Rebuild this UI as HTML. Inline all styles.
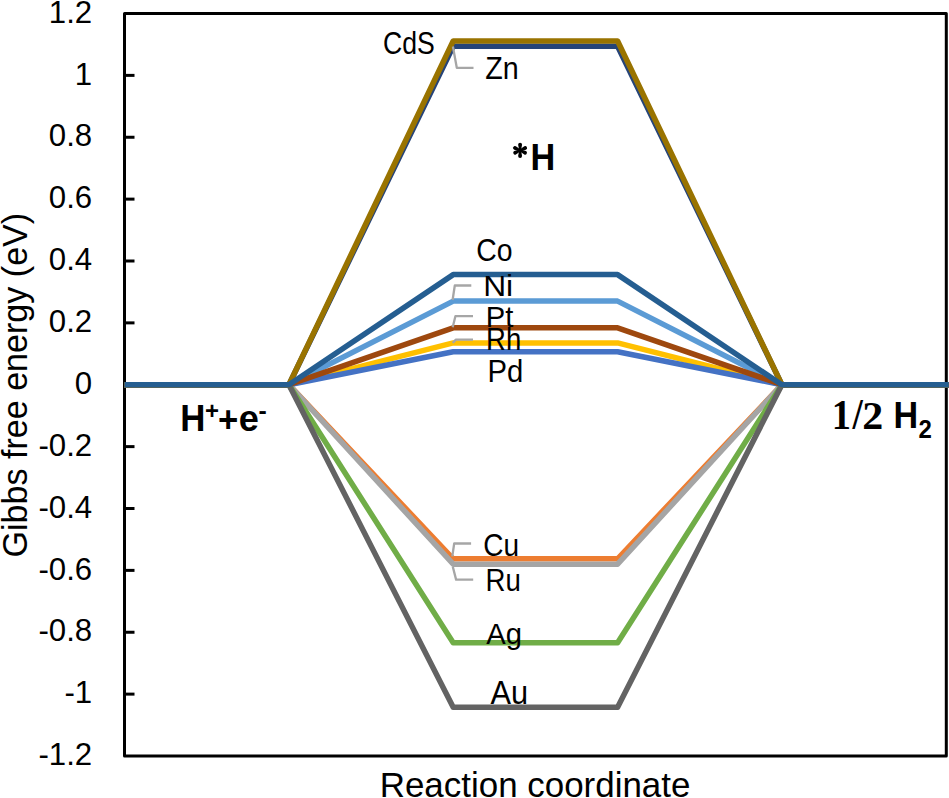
<!DOCTYPE html>
<html><head><meta charset="utf-8"><title>Gibbs free energy diagram</title>
<style>html,body{margin:0;padding:0;background:#fff;overflow:hidden}svg{display:block}text{font-family:"Liberation Sans",sans-serif;fill:#000}.s{font-family:"Liberation Serif",serif}</style>
</head><body>
<svg width="949" height="798" viewBox="0 0 949 798">
<rect width="949" height="798" fill="#fff"/>
<g stroke="#000" stroke-width="3"><line x1="124.5" y1="75.38" x2="134.5" y2="75.38"/><line x1="124.5" y1="137.25" x2="134.5" y2="137.25"/><line x1="124.5" y1="199.12" x2="134.5" y2="199.12"/><line x1="124.5" y1="261.00" x2="134.5" y2="261.00"/><line x1="124.5" y1="322.88" x2="134.5" y2="322.88"/><line x1="124.5" y1="384.75" x2="134.5" y2="384.75"/><line x1="124.5" y1="446.62" x2="134.5" y2="446.62"/><line x1="124.5" y1="508.50" x2="134.5" y2="508.50"/><line x1="124.5" y1="570.38" x2="134.5" y2="570.38"/><line x1="124.5" y1="632.25" x2="134.5" y2="632.25"/><line x1="124.5" y1="694.12" x2="134.5" y2="694.12"/></g>
<g font-size="31.5" text-anchor="end"><text transform="translate(92.2 22.70) scale(0.99 1)">1.2</text><text transform="translate(92.2 84.58) scale(0.99 1)">1</text><text transform="translate(92.2 146.45) scale(0.99 1)">0.8</text><text transform="translate(92.2 208.32) scale(0.99 1)">0.6</text><text transform="translate(92.2 270.20) scale(0.99 1)">0.4</text><text transform="translate(92.2 332.07) scale(0.99 1)">0.2</text><text transform="translate(92.2 393.95) scale(0.99 1)">0</text><text transform="translate(92.2 455.82) scale(0.99 1)">-0.2</text><text transform="translate(92.2 517.70) scale(0.99 1)">-0.4</text><text transform="translate(92.2 579.58) scale(0.99 1)">-0.6</text><text transform="translate(92.2 641.45) scale(0.99 1)">-0.8</text><text transform="translate(92.2 703.33) scale(0.99 1)">-1</text><text transform="translate(92.2 765.20) scale(0.99 1)">-1.2</text></g>
<rect x="124.5" y="13.5" width="821.8" height="742.5" fill="none" stroke="#000" stroke-width="3" stroke-linejoin="round"/>
<g fill="none" stroke-width="5.50" stroke-linejoin="round" stroke-linecap="butt"><path stroke="#ED7D31" d="M124.5 384.7 L288.9 384.7 L453.2 558.8 L617.6 558.8 L781.9 384.7 L948.8 384.7"/><path stroke="#A5A5A5" d="M124.5 384.7 L288.9 384.7 L453.2 564.2 L617.6 564.2 L781.9 384.7 L948.8 384.7"/><path stroke="#FFC000" d="M124.5 384.7 L288.9 384.7 L453.2 342.9 L617.6 342.9 L781.9 384.7 L948.8 384.7"/><path stroke="#4472C4" d="M124.5 384.7 L288.9 384.7 L453.2 351.7 L617.6 351.7 L781.9 384.7 L948.8 384.7"/><path stroke="#5B9BD5" d="M124.5 384.7 L288.9 384.7 L453.2 301.1 L617.6 301.1 L781.9 384.7 L948.8 384.7"/><path stroke="#70AD47" d="M124.5 384.7 L288.9 384.7 L453.2 642.8 L617.6 642.8 L781.9 384.7 L948.8 384.7"/><path stroke="#264478" d="M124.5 384.7 L288.9 384.7 L453.2 46.3 L617.6 46.3 L781.9 384.7 L948.8 384.7"/><path stroke="#9E480E" d="M124.5 384.7 L288.9 384.7 L453.2 327.8 L617.6 327.8 L781.9 384.7 L948.8 384.7"/><path stroke="#636363" d="M124.5 384.7 L288.9 384.7 L453.2 707.2 L617.6 707.2 L781.9 384.7 L948.8 384.7"/><path stroke="#997300" d="M124.5 384.7 L288.9 384.7 L453.2 41.0 L617.6 41.0 L781.9 384.7 L948.8 384.7"/><path stroke="#255E91" d="M124.5 384.7 L288.9 384.7 L453.2 274.6 L617.6 274.6 L781.9 384.7 L948.8 384.7"/></g>
<g fill="none" stroke="#A6A6A6" stroke-width="2.3" stroke-linejoin="round"><path d="M452.9 46.5 L456.8 67.8 L473.5 67.8"/><path d="M452.6 300.0 L454.8 285.5 L471.3 285.5"/><path d="M452.7 327.2 L455.4 316.2 L473.0 316.2"/><path d="M452.7 342.8 L455.9 339.7 L473.0 339.7"/><path d="M452.3 556.3 L454.2 543.5 L471.1 543.5"/><path d="M452.8 566.7 L456.1 579.6 L473.2 579.6"/></g>
<text transform="translate(383.07 54.30) scale(0.8603 1)" font-size="30.98">CdS</text>
<text transform="translate(485.34 79.00) scale(0.8951 1)" font-size="32.05">Zn</text>
<text transform="translate(476.18 261.30) scale(0.8900 1)" font-size="31.90">Co</text>
<text transform="translate(483.15 296.00) scale(1.0784 1)" font-size="29.44">Ni</text>
<text transform="translate(485.87 326.70) scale(0.9821 1)" font-size="29.71">Pt</text>
<text transform="translate(486.01 350.30) scale(0.8927 1)" font-size="30.84">Rh</text>
<text transform="translate(487.46 381.70) scale(0.9317 1)" font-size="31.40">Pd</text>
<text transform="translate(483.20 555.80) scale(0.8786 1)" font-size="31.90">Cu</text>
<text transform="translate(485.60 591.40) scale(0.9030 1)" font-size="30.59">Ru</text>
<text transform="translate(486.30 643.83) scale(0.9630 1)" font-size="30.34">Ag</text>
<text transform="translate(490.40 703.70) scale(0.9518 1)" font-size="32.34">Au</text>
<g font-weight="bold">
<text transform="translate(530.61 170.00) scale(0.9260 1)" font-size="37.02">H</text>
<text transform="translate(180.28 431.20) scale(0.9289 1)" font-size="37.46">H</text>
<text transform="translate(205.00 419.07) scale(0.9677 1)" font-size="24.80">+</text>
<text transform="translate(218.06 432.12) scale(0.9305 1)" font-size="37.40">+</text>
<text transform="translate(238.69 431.20) scale(0.9846 1)" font-size="36.77">e</text>
<text transform="translate(258.48 418.60) scale(1.0312 1)" font-size="24.00">-</text>
<text class="s" transform="translate(831.70 428.90) scale(0.922 1)" font-size="41.69">1</text>
<text class="s" transform="translate(852.40 429.20) scale(0.845 1)" font-size="43.85">/</text>
<text class="s" transform="translate(862.30 428.60) scale(1.026 1)" font-size="40.92">2</text>
<text transform="translate(893.53 428.00) scale(0.9251 1)" font-size="36.88">H</text>
<text transform="translate(918.60 437.80) scale(0.9647 1)" font-size="24.88">2</text>
</g>
<text transform="translate(379.69 797.40) scale(0.9900 1)" font-size="35.30">Reaction coordinate</text>
<g transform="translate(0 555.8) rotate(-90)"><text transform="translate(-1.71 27.0) scale(0.974 1)" font-size="35">Gibbs free energy (eV)</text></g>
<g fill="#000"><path d="M521.05 150.30L522.05 144.70A1.95 1.95 0 0 0 518.15 144.70L519.15 150.30Z"/><path d="M519.15 150.30L518.15 155.95A1.95 1.95 0 0 0 522.05 155.95L521.05 150.30Z"/><path d="M520.50 149.44L515.89 146.20A1.95 1.95 0 0 0 514.25 149.74L519.70 151.16Z"/><path d="M520.50 151.16L525.95 149.74A1.95 1.95 0 0 0 524.31 146.20L519.70 149.44Z"/><path d="M519.69 149.44L514.26 150.95A1.95 1.95 0 0 0 515.95 154.46L520.51 151.16Z"/><path d="M519.69 151.16L524.25 154.46A1.95 1.95 0 0 0 525.94 150.95L520.51 149.44Z"/><circle cx="520.1" cy="150.3" r="1.4"/></g>
</svg>
</body></html>
